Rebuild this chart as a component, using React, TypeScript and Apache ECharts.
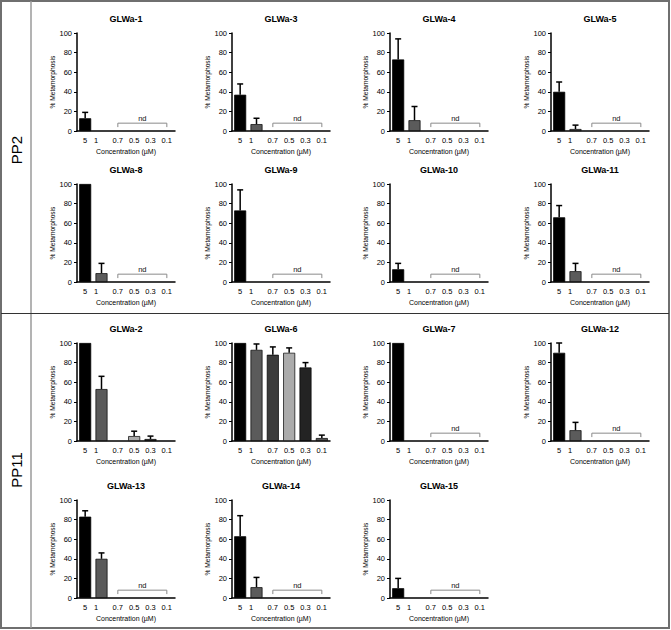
import React, { useEffect, useRef } from 'react';
import * as echarts from 'echarts';

const categories = ['5', '1', '0.7', '0.5', '0.3', '0.1'];
const panelNames = [
  'GLWa-1', 'GLWa-3', 'GLWa-4', 'GLWa-5',
  'GLWa-8', 'GLWa-9', 'GLWa-10', 'GLWa-11',
  'GLWa-2', 'GLWa-6', 'GLWa-7', 'GLWa-12',
  'GLWa-13', 'GLWa-14', 'GLWa-15',
];
// mean % metamorphosis per concentration (null = not determined)
const meanValues: (number | null)[][] = [
  [13, 0, null, null, null, null],
  [37, 7, null, null, null, null],
  [73, 11, null, null, null, null],
  [40, 2, null, null, null, null],
  [100, 9, null, null, null, null],
  [73, 0, null, null, null, null],
  [13, 0, null, null, null, null],
  [66, 11, null, null, null, null],
  [100, 53, 0, 5, 2, 0],
  [100, 93, 88, 90, 75, 3],
  [100, 0, null, null, null, null],
  [90, 11, null, null, null, null],
  [83, 40, null, null, null, null],
  [63, 11, null, null, null, null],
  [10, 0, null, null, null, null],
];
const errorValues: number[][] = [
  [6, 0, 0, 0, 0, 0],
  [11, 6, 0, 0, 0, 0],
  [21, 14, 0, 0, 0, 0],
  [10, 4, 0, 0, 0, 0],
  [0, 10, 0, 0, 0, 0],
  [21, 0, 0, 0, 0, 0],
  [6, 0, 0, 0, 0, 0],
  [12, 8, 0, 0, 0, 0],
  [0, 13, 0, 5, 3, 0],
  [0, 6, 8, 5, 5, 3],
  [0, 0, 0, 0, 0, 0],
  [10, 8, 0, 0, 0, 0],
  [6, 6, 0, 0, 0, 0],
  [21, 10, 0, 0, 0, 0],
  [10, 0, 0, 0, 0, 0],
];
const ndPanels = [true, true, true, true, true, true, true, true, false, false, true, true, true, true, true];
const ndRange = [2, 5, 8, 4]; // start category, end category, bracket level, tick end level
const barColors = ['#000000', '#5b5b5b', '#3b3b3b', '#ababab', '#232323', '#555555'];
const sectionLabels = ['PP2', 'PP11'];
const yTicks = [0, 100, 20];

const FONT = '"Liberation Sans", Arial, Helvetica, sans-serif';

export default function App() {
  const ref = useRef<HTMLDivElement>(null);
  useEffect(() => {
    if (!ref.current) return;
    const chart = echarts.init(ref.current, null, { renderer: 'svg' });
    const colLeft = [77, 232, 390, 551];
    const rowTop = [33, 184, 343, 500];
    const W = 98;
    const H = 98;

    const grids: any[] = [];
    const xAxes: any[] = [];
    const yAxes: any[] = [];
    const series: any[] = [];
    const graphics: any[] = [];

    panelNames.forEach((name, i) => {
      const r = Math.floor(i / 4);
      const c = i % 4;
      const left = colLeft[c];
      const top = rowTop[r];
      grids.push({ left, top, width: W, height: H, containLabel: false });
      xAxes.push({
        type: 'category',
        gridIndex: i,
        data: categories,
        name: 'Concentration (µM)',
        nameLocation: 'middle',
        nameGap: 17,
        nameTextStyle: { fontSize: 7, color: '#000', fontFamily: FONT },
        axisLine: { lineStyle: { color: '#000', width: 1.5 } },
        axisTick: { show: false },
        axisLabel: {
          fontSize: 7.5,
          color: '#000',
          fontFamily: FONT,
          margin: 5,
          interval: 0,
          formatter: (v: string) => (v === '1' ? '{s|1}' : v),
          rich: { s: { fontSize: 7.5, color: '#000', fontFamily: FONT, padding: [0, 11, 0, 0] } },
        },
      });
      yAxes.push({
        type: 'value',
        gridIndex: i,
        min: yTicks[0],
        max: yTicks[1],
        interval: yTicks[2],
        name: '% Metamorphosis',
        nameLocation: 'middle',
        nameGap: 19,
        nameTextStyle: { fontSize: 6.6, color: '#000', fontFamily: FONT },
        axisLine: { show: true, lineStyle: { color: '#000', width: 1.5 } },
        axisTick: { show: true, length: 3, lineStyle: { color: '#000', width: 1 } },
        axisLabel: { fontSize: 7.5, color: '#000', fontFamily: FONT, margin: 5 },
        splitLine: { show: false },
      });
      series.push({
        type: 'bar',
        xAxisIndex: i,
        yAxisIndex: i,
        barWidth: 12,
        data: meanValues[i].map((v, j) =>
          v === null ? null : { value: v, itemStyle: { color: barColors[j], borderColor: '#000', borderWidth: v > 0 ? 0.7 : 0 } }
        ),
        silent: true,
      });
      const errData = meanValues[i]
        .map((v, j) => (v !== null && errorValues[i][j] > 0 ? [j, v, errorValues[i][j]] : null))
        .filter((d) => d !== null);
      series.push({
        type: 'custom',
        xAxisIndex: i,
        yAxisIndex: i,
        encode: { x: 0, y: 1 },
        z: 5,
        data: errData,
        renderItem: (params: any, api: any) => {
          const x = api.value(0);
          const v = api.value(1);
          const e = api.value(2);
          const p0 = api.coord([x, v]);
          const p1 = api.coord([x, v + e]);
          return {
            type: 'group',
            children: [
              { type: 'line', shape: { x1: p0[0], y1: p0[1], x2: p1[0], y2: p1[1] }, style: { stroke: '#000', lineWidth: 1.5 } },
              { type: 'line', shape: { x1: p1[0] - 3, y1: p1[1], x2: p1[0] + 3, y2: p1[1] }, style: { stroke: '#000', lineWidth: 1.5 } },
            ],
          };
        },
      });
      if (ndPanels[i]) {
        series.push({
          type: 'custom',
          xAxisIndex: i,
          yAxisIndex: i,
          encode: { x: [0, 1], y: 2 },
          data: [ndRange],
          renderItem: (params: any, api: any) => {
            const a = api.coord([api.value(0), api.value(2)]);
            const b = api.coord([api.value(1), api.value(2)]);
            const low = api.coord([api.value(0), api.value(3)])[1];
            return {
              type: 'group',
              children: [
                {
                  type: 'polyline',
                  shape: { points: [[a[0], low], [a[0], a[1]], [b[0], a[1]], [b[0], low]] },
                  style: { stroke: '#8a8a8a', lineWidth: 1, fill: 'none' },
                },
                {
                  type: 'text',
                  x: (a[0] + b[0]) / 2,
                  y: a[1] - 1,
                  style: { text: 'nd', fontSize: 7.5, fontFamily: FONT, fill: '#111', textAlign: 'center', textVerticalAlign: 'bottom' },
                },
              ],
            };
          },
        });
      }
      graphics.push({
        type: 'text',
        x: left + W / 2,
        y: top - 14,
        style: { text: name, fontSize: 9, fontWeight: 'bold', fontFamily: FONT, fill: '#000', textAlign: 'center', textVerticalAlign: 'middle' },
      });
    });

    // frame
    graphics.push({ type: 'rect', shape: { x: 1, y: 1, width: 668, height: 627 }, style: { fill: 'none', stroke: '#6f6f6f', lineWidth: 2 } });
    graphics.push({ type: 'line', shape: { x1: 31, y1: 1, x2: 31, y2: 628 }, style: { stroke: '#9a9a9a', lineWidth: 1.5 } });
    graphics.push({ type: 'line', shape: { x1: 1, y1: 313.5, x2: 669, y2: 313.5 }, style: { stroke: '#333', lineWidth: 1 } });
    [150, 470].forEach((cy, k) => {
      graphics.push({
        type: 'text',
        x: 16,
        y: cy,
        rotation: Math.PI / 2,
        style: { text: sectionLabels[k], fontSize: 15, fontFamily: FONT, fill: '#000', textAlign: 'center', textVerticalAlign: 'middle' },
      });
    });

    chart.setOption({
      animation: false,
      backgroundColor: '#fff',
      grid: grids,
      xAxis: xAxes,
      yAxis: yAxes,
      series,
      graphic: graphics,
    });
    return () => chart.dispose();
  }, []);
  return <div ref={ref} style={{ position: 'fixed', left: 0, top: 0, width: 671, height: 630 }} />;
}
